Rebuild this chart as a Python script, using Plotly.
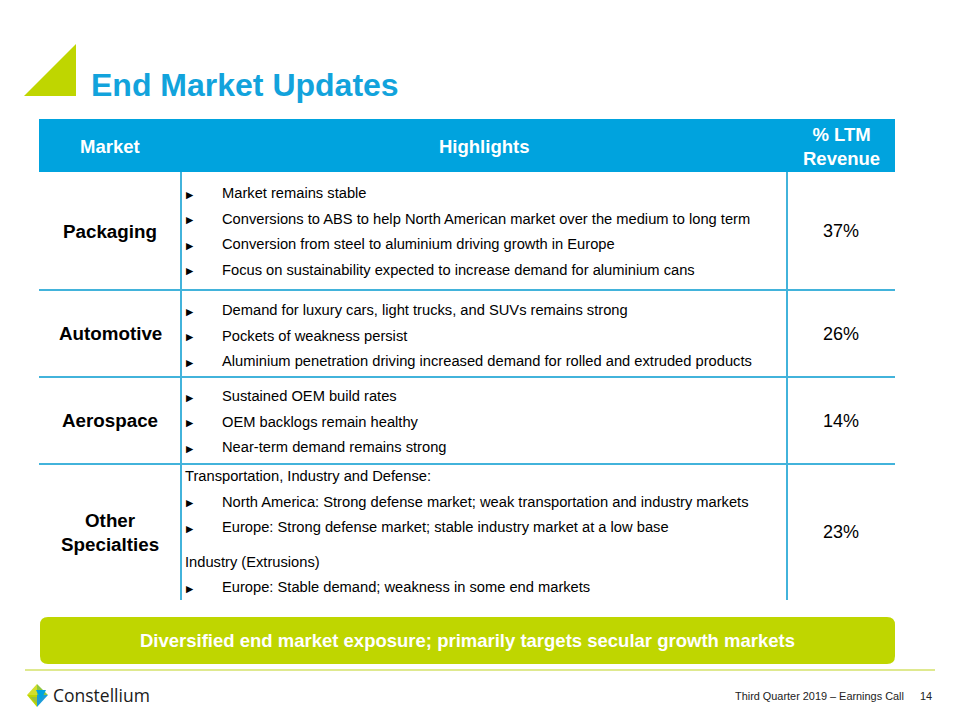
import plotly.graph_objects as go

# ---------------- data ----------------
title_text = "End Market Updates"
header_labels = ["Market", "Highlights", "% LTM<br>Revenue"]
markets = ["Packaging", "Automotive", "Aerospace", "Other<br>Specialties"]
ltm_revenue_pct = [37, 26, 14, 23]
packaging_points = [
    "Market remains stable",
    "Conversions to ABS to help North American market over the medium to long term",
    "Conversion from steel to aluminium driving growth in Europe",
    "Focus on sustainability expected to increase demand for aluminium cans",
]
automotive_points = [
    "Demand for luxury cars, light trucks, and SUVs remains strong",
    "Pockets of weakness persist",
    "Aluminium penetration driving increased demand for rolled and extruded products",
]
aerospace_points = [
    "Sustained OEM build rates",
    "OEM backlogs remain healthy",
    "Near-term demand remains strong",
]
# (text, is_bullet)
other_points = [
    ("Transportation, Industry and Defense:", False),
    ("North America: Strong defense market; weak transportation and industry markets", True),
    ("Europe: Strong defense market; stable industry market at a low base", True),
    ("Industry (Extrusions)", False),
    ("Europe: Stable demand; weakness in some end markets", True),
]
banner_text = "Diversified end market exposure; primarily targets secular growth markets"
footer_text = "Third Quarter 2019 \u2013 Earnings Call"
page_number = "14"
company = "Constellium"

# ---------------- styles / layout ----------------
BLUE = "#00A3DE"
TITLE_BLUE = "#12A3DC"
LINE_BLUE = "#42B3DB"
GREEN = "#BFD600"
FONT = "Liberation Sans, Arial, sans-serif"
PAGE_OFFSET = 8  # page body margin

tbl_left, tbl_right = 39, 895
hdr_top, hdr_bot = 119, 172
col1_x, col2_x = 181, 787
row_bounds = [172, 290, 377, 464, 600]
first_offset = [21, 20, 19, 12]
line_step = 25.5

rows_points = [
    [(t, True) for t in packaging_points],
    [(t, True) for t in automotive_points],
    [(t, True) for t in aerospace_points],
    other_points,
]

shapes = []
annotations = []

# title triangle
shapes.append(dict(type="path", path="M 24 96 L 76 44 L 76 96 Z",
                   fillcolor=GREEN, line=dict(width=0), layer="above"))
annotations.append(dict(x=89, y=85, text=f"<b>{title_text}</b>", showarrow=False,
                        xanchor="left", yanchor="middle",
                        font=dict(family=FONT, size=32, color=TITLE_BLUE)))

# header band
shapes.append(dict(type="rect", x0=tbl_left, x1=tbl_right, y0=hdr_top, y1=hdr_bot,
                   fillcolor=BLUE, line=dict(width=0)))
hdr_x = [110, 484, 841]
for hx, lab in zip(hdr_x, header_labels):
    annotations.append(dict(x=hx, y=(hdr_top + hdr_bot) / 2 + 1, text=f"<b>{lab}</b>",
                            showarrow=False, xanchor="center", yanchor="middle",
                            font=dict(family=FONT, size=18.5, color="white")))

# grid lines
for x in (col1_x, col2_x):
    shapes.append(dict(type="line", x0=x, x1=x, y0=hdr_bot, y1=row_bounds[-1],
                       line=dict(color=LINE_BLUE, width=2)))
for y in row_bounds[1:-1]:
    shapes.append(dict(type="line", x0=tbl_left, x1=tbl_right, y0=y, y1=y,
                       line=dict(color=LINE_BLUE, width=2)))

# rows
for i, (mk, pct, pts) in enumerate(zip(markets, ltm_revenue_pct, rows_points)):
    top, bot = row_bounds[i], row_bounds[i + 1]
    mid = (top + bot) / 2
    annotations.append(dict(x=110, y=mid, text=f"<b>{mk}</b>", showarrow=False,
                            xanchor="center", yanchor="middle",
                            font=dict(family=FONT, size=18.8, color="black")))
    annotations.append(dict(x=841, y=mid, text=f"{pct}%", showarrow=False,
                            xanchor="center", yanchor="middle",
                            font=dict(family=FONT, size=18, color="black")))
    y = top + first_offset[i]
    for j, (txt, is_bullet) in enumerate(pts):
        if j > 0:
            y += line_step
            if not is_bullet:
                y += 9
        if is_bullet:
            annotations.append(dict(x=184, y=y + 1, text="\u25B6", showarrow=False,
                                    xanchor="left", yanchor="middle",
                                    font=dict(family="DejaVu Sans", size=9.5, color="black")))
            annotations.append(dict(x=220, y=y, text=txt, showarrow=False,
                                    xanchor="left", yanchor="middle",
                                    font=dict(family=FONT, size=14.7, color="black")))
        else:
            annotations.append(dict(x=183, y=y, text=txt, showarrow=False,
                                    xanchor="left", yanchor="middle",
                                    font=dict(family=FONT, size=14.7, color="black")))

# banner (rounded)
bx0, bx1, by0, by1, r = 40, 895, 617, 664, 8
banner_path = (f"M {bx0+r} {by0} L {bx1-r} {by0} Q {bx1} {by0} {bx1} {by0+r} "
               f"L {bx1} {by1-r} Q {bx1} {by1} {bx1-r} {by1} L {bx0+r} {by1} "
               f"Q {bx0} {by1} {bx0} {by1-r} L {bx0} {by0+r} Q {bx0} {by0} {bx0+r} {by0} Z")
shapes.append(dict(type="path", path=banner_path, fillcolor=GREEN, line=dict(width=0)))
annotations.append(dict(x=(bx0 + bx1) / 2, y=(by0 + by1) / 2, text=f"<b>{banner_text}</b>",
                        showarrow=False, xanchor="center", yanchor="middle",
                        font=dict(family=FONT, size=18.5, color="white")))

# footer rule
shapes.append(dict(type="line", x0=25, x1=935, y0=670, y1=670,
                   line=dict(color="#D4E26A", width=1.5)))

# logo mark
logo_polys = [
    ("M 27 695 L 37 684 L 37 695 Z", "#D2DE2C"),
    ("M 37 684 L 48 695 L 37 695 Z", "#8DC63F"),
    ("M 27 695 L 37 695 L 37 707 Z", "#BFD600"),
    ("M 37 695 L 48 695 L 37 707 Z", "#1C9CD8"),
    ("M 36 690 L 46 690 L 41 700 Z", "#00A3DE"),
    ("M 30 697 L 37 697 L 37 704 Z", "#9CC13B"),
]
for p, c in logo_polys:
    shapes.append(dict(type="path", path=p, fillcolor=c, line=dict(width=0)))
annotations.append(dict(x=51, y=695, text=company, showarrow=False,
                        xanchor="left", yanchor="middle",
                        font=dict(family="Open Sans, sans-serif", size=17.5, color="#1a1a1a")))

annotations.append(dict(x=906, y=696, text=footer_text, showarrow=False,
                        xanchor="right", yanchor="middle",
                        font=dict(family=FONT, size=10.9, color="#222222")))
annotations.append(dict(x=934, y=696, text=page_number, showarrow=False,
                        xanchor="right", yanchor="middle",
                        font=dict(family=FONT, size=10.9, color="#222222")))

fig = go.Figure()
fig.update_layout(
    width=960, height=720, autosize=False,
    margin=dict(l=0, r=0, t=0, b=0),
    paper_bgcolor="white", plot_bgcolor="white",
    xaxis=dict(range=[PAGE_OFFSET, 960 + PAGE_OFFSET], visible=False, fixedrange=True),
    yaxis=dict(range=[720 + PAGE_OFFSET, PAGE_OFFSET], visible=False, fixedrange=True),
    shapes=shapes, annotations=annotations, showlegend=False,
)
fig.write_html("out.html")
